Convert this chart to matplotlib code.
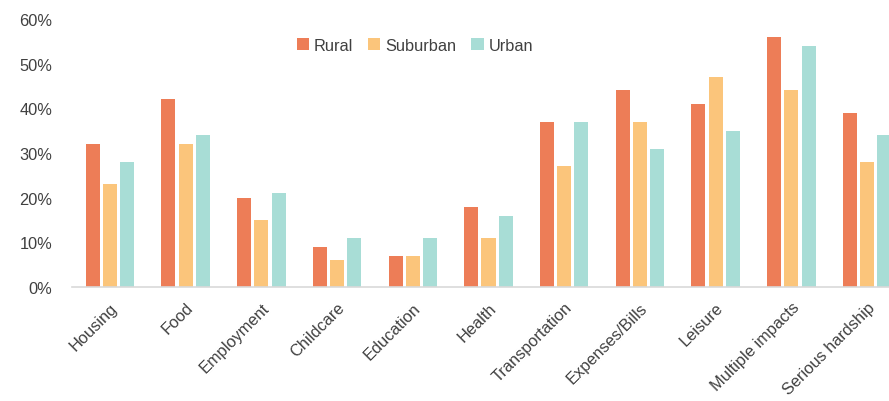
import numpy as np
import matplotlib.pyplot as plt
from matplotlib.ticker import PercentFormatter

categories = ['Housing', 'Food', 'Employment', 'Childcare', 'Education', 'Health',
              'Transportation', 'Expenses/Bills', 'Leisure', 'Multiple impacts',
              'Serious hardship']
rural = [32, 42, 20, 9, 7, 18, 37, 44, 41, 56, 39]
suburban = [23, 32, 15, 6, 7, 11, 27, 37, 47, 44, 28]
urban = [28, 34, 21, 11, 11, 16, 37, 31, 35, 54, 34]

plt.rcParams['font.family'] = ['Liberation Sans', 'DejaVu Sans']
txt = '#404040'

fig = plt.figure(figsize=(8.89, 4.02), dpi=100)
ax = fig.add_axes([72/889, 114/402, 833/889, 268/402])

x = np.arange(len(categories))
step = 0.228
w = 0.185
ax.bar(x - step, rural, w, color='#ED7D57', label='Rural')
ax.bar(x, suburban, w, color='#FBC57B', label='Suburban')
ax.bar(x + step, urban, w, color='#A8DDD6', label='Urban')

ax.set_xlim(-0.5, len(categories) - 0.5)
ax.set_ylim(0, 60)
ax.set_yticks(range(0, 61, 10))
ax.yaxis.set_major_formatter(PercentFormatter(decimals=0))
ax.set_xticks(x)
ax.set_xticklabels(categories, rotation=45, ha='right', rotation_mode='anchor')
ax.tick_params(axis='both', length=0, labelsize=11.8, colors=txt)
ax.tick_params(axis='y', pad=14)
ax.tick_params(axis='x', pad=9)
for s in ['top', 'right', 'left']:
    ax.spines[s].set_visible(False)
ax.spines['bottom'].set_color('#D9D9D9')
ax.spines['bottom'].set_linewidth(1.2)

leg = ax.legend(loc='upper center', bbox_to_anchor=(343/833, 0.985), ncol=3, frameon=False,
                fontsize=11.8, handlelength=0.75, handleheight=0.75, columnspacing=0.9,
                handletextpad=0.3)
for t in leg.get_texts():
    t.set_color(txt)

fig.savefig('out.png', dpi=100)
